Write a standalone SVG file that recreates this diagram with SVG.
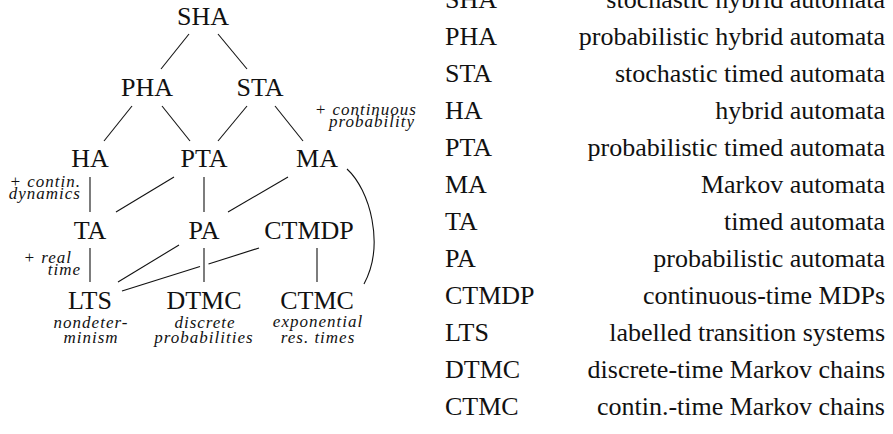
<svg xmlns="http://www.w3.org/2000/svg" width="893" height="434" viewBox="0 0 893 434">
  <style>
    .node { font-family: "Liberation Serif", "Times New Roman", serif; font-size: 26px; fill: #111; text-anchor: middle; }
    .note { font-family: "Liberation Serif", "Times New Roman", serif; font-size: 17px; font-style: italic; letter-spacing: 1px; fill: #111; }
    .end { text-anchor: end; }
    .mid { text-anchor: middle; }
    .edge { stroke: #111; stroke-width: 1.1; fill: none; }
    .abbr { font-family: "Liberation Serif", "Times New Roman", serif; font-size: 26px; fill: #111; }
    .desc { font-family: "Liberation Serif", "Times New Roman", serif; font-size: 26px; fill: #111; text-anchor: end; }
  </style>
  <rect width="893" height="434" fill="#fff"/>

  <!-- connectors of the hierarchy -->
  <g id="connectors">
    <line class="edge" x1="189" y1="34" x2="161" y2="69"/>
    <line class="edge" x1="218" y1="34" x2="247" y2="69"/>
    <line class="edge" x1="132" y1="106" x2="104" y2="141"/>
    <line class="edge" x1="162" y1="106" x2="190" y2="141"/>
    <line class="edge" x1="247" y1="106" x2="218" y2="141"/>
    <line class="edge" x1="275" y1="106" x2="303" y2="141"/>
    <line class="edge" x1="90" y1="177" x2="90" y2="212"/>
    <line class="edge" x1="174" y1="177" x2="116" y2="212"/>
    <line class="edge" x1="204" y1="177" x2="204" y2="212"/>
    <line class="edge" x1="288" y1="177" x2="228" y2="212"/>
    <line class="edge" x1="90" y1="248" x2="90" y2="282"/>
    <line class="edge" x1="179" y1="245" x2="118" y2="282"/>
    <!-- CTMDP to LTS, broken where it passes behind PA–DTMC -->
    <line class="edge" x1="259" y1="248" x2="208.5" y2="264"/>
    <line class="edge" x1="200" y1="266.5" x2="122" y2="291"/>
    <line class="edge" x1="204" y1="248" x2="204" y2="282"/>
    <line class="edge" x1="317" y1="248" x2="317" y2="282"/>
    <path class="edge" d="M 347 169 C 370 190, 385 245, 364 284"/>
  </g>

  <g id="n-sha"><text class="node" x="203" y="25">SHA</text></g>
  <g id="n-pha"><text class="node" x="147" y="96">PHA</text></g>
  <g id="n-sta"><text class="node" x="260" y="96">STA</text></g>
  <g id="n-ha"><text class="node" x="90" y="167">HA</text></g>
  <g id="n-pta"><text class="node" x="204" y="167">PTA</text></g>
  <g id="n-ma"><text class="node" x="317" y="167">MA</text></g>
  <g id="n-ta"><text class="node" x="90" y="239">TA</text></g>
  <g id="n-pa"><text class="node" x="204" y="239">PA</text></g>
  <g id="n-ctmdp"><text class="node" x="309" y="239">CTMDP</text></g>
  <g id="n-lts">
    <text class="node" x="90" y="309">LTS</text>
    <text class="note mid" x="91" y="328">nondeter-</text>
    <text class="note mid" x="91" y="343">minism</text>
  </g>
  <g id="n-dtmc">
    <text class="node" x="204" y="309">DTMC</text>
    <text class="note mid" x="205" y="328">discrete</text>
    <text class="note mid" x="204" y="343">probabilities</text>
  </g>
  <g id="n-ctmc">
    <text class="node" x="317" y="309">CTMC</text>
    <text class="note mid" x="318" y="327">exponential</text>
    <text class="note mid" x="318" y="343">res. times</text>
  </g>

  <!-- side remarks on the edges -->
  <g id="remarks">
    <text class="note end" x="81" y="187">+ contin.</text>
    <text class="note end" x="81" y="199">dynamics</text>
    <text class="note end" x="72" y="263">+ real</text>
    <text class="note end" x="81" y="275">time</text>
    <text class="note end" x="417" y="115">+ continuous</text>
    <text class="note end" x="415" y="127">probability</text>
  </g>

  <!-- legend of abbreviations -->
  <g id="legend">
    <text class="abbr" x="445" y="8">SHA</text><text class="desc" x="885" y="8">stochastic hybrid automata</text>
    <text class="abbr" x="445" y="45">PHA</text><text class="desc" x="885" y="45">probabilistic hybrid automata</text>
    <text class="abbr" x="445" y="82">STA</text><text class="desc" x="885" y="82">stochastic timed automata</text>
    <text class="abbr" x="445" y="119">HA</text><text class="desc" x="885" y="119">hybrid automata</text>
    <text class="abbr" x="445" y="156">PTA</text><text class="desc" x="885" y="156">probabilistic timed automata</text>
    <text class="abbr" x="445" y="193">MA</text><text class="desc" x="885" y="193">Markov automata</text>
    <text class="abbr" x="445" y="230">TA</text><text class="desc" x="885" y="230">timed automata</text>
    <text class="abbr" x="445" y="267">PA</text><text class="desc" x="885" y="267">probabilistic automata</text>
    <text class="abbr" x="445" y="304">CTMDP</text><text class="desc" x="885" y="304">continuous-time MDPs</text>
    <text class="abbr" x="445" y="341">LTS</text><text class="desc" x="885" y="341">labelled transition systems</text>
    <text class="abbr" x="445" y="378">DTMC</text><text class="desc" x="885" y="378">discrete-time Markov chains</text>
    <text class="abbr" x="445" y="415">CTMC</text><text class="desc" x="885" y="415">contin.-time Markov chains</text>
  </g>
</svg>
